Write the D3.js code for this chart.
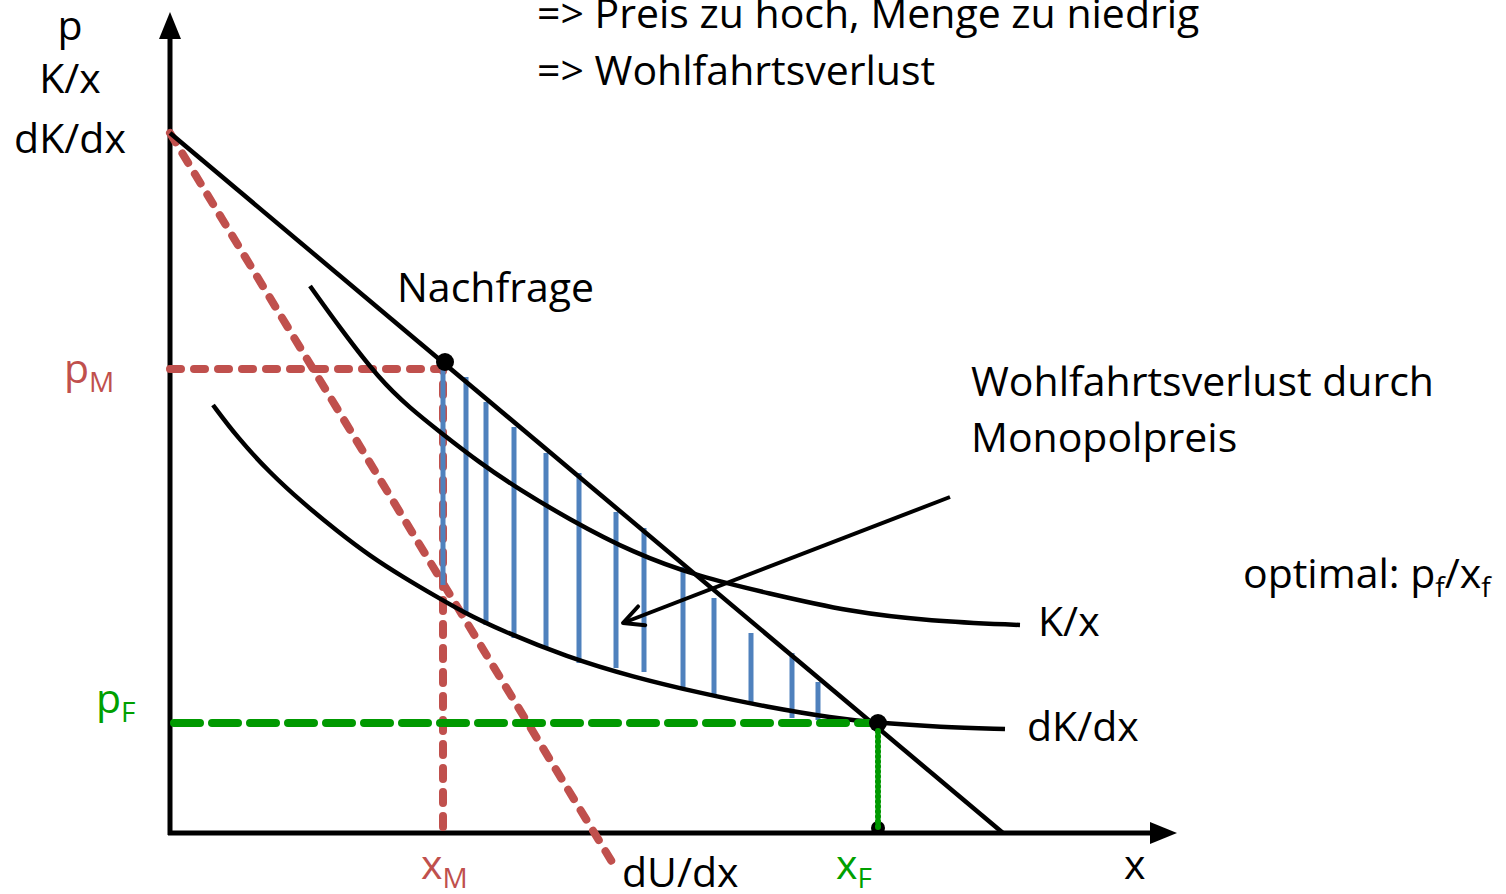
<!DOCTYPE html>
<html>
<head>
<meta charset="utf-8">
<script src="https://cdn.jsdelivr.net/npm/d3@7"></script>
<style>
  body { margin: 0; background: #fff; }
  svg { display: block; }
  text { font-family: "Open Sans", "Noto Sans", sans-serif; }
</style>
</head>
<body>
<svg id="chart" width="1506" height="894"></svg>
<script>
// values in axis units, origin at the corner of the two axes
var demand = [[0, 700], [833, 0]];
var marginalRevenue = [[0, 700], [442, -29]];
var avgCost = [[140, 547], [170, 505], [210, 453], [240, 425], [270, 401], [310, 370], [350, 343],
  [397, 315], [463, 280], [530, 256], [597, 240], [680, 221], [760, 212], [850, 208]];
var marginalCost = [[43, 428], [67, 396], [100, 360], [133, 330], [167, 302], [200, 277], [233, 256],
  [267, 236], [293, 221], [330, 203], [397, 176], [463, 156], [530, 140], [597, 126], [663, 115],
  [708, 110], [770, 106], [835, 104]];

// deadweight loss hatching
var hatchX = [273, 296, 316, 344, 376, 409, 446, 474, 513, 544, 581, 622, 648];
var hatchTop = [466, 456, 431, 406, 380, 360, 321, 305, 266, 235, 200, 180, 151];
var hatchBottom = [248, 221, 208, 195, 185, 170, 165, 161, 146, 136, 128, 115, 113];

var xM = 273, pM = 464;
var xF = 708, pF = 110;
var dots = [[275, 471, 9], [708, 110, 9], [708, 5, 7]];
var pointer = [[780, 336], [453, 210]];

var red = "#C0504D", green = "#009900", blue = "#4F81BD";

var svg = d3.select("#chart");
var x = d3.scaleLinear().domain([0, 1007]).range([170, 1177]);
var y = d3.scaleLinear().domain([0, 821]).range([833, 12]);

svg.append("defs").append("marker")
  .attr("id", "openHead").attr("markerUnits", "userSpaceOnUse")
  .attr("viewBox", "-24 -14 28 28").attr("refX", 0).attr("refY", 0)
  .attr("markerWidth", 28).attr("markerHeight", 28).attr("orient", "auto")
  .append("path").attr("d", "M-20,-10 L0,0 L-20,10")
  .attr("fill", "none").attr("stroke", "#000").attr("stroke-width", 4)
  .attr("stroke-linecap", "round").attr("stroke-linejoin", "round");

var straight = d3.line().x(function(d) { return x(d[0]); }).y(function(d) { return y(d[1]); });
var smooth = d3.line().x(function(d) { return x(d[0]); }).y(function(d) { return y(d[1]); })
  .curve(d3.curveBasis);

// axes with filled arrow heads
var x0 = x(0), y0 = y(0), yTop = y(821), xEnd = x(1007);
svg.append("line")
  .attr("x1", x0).attr("y1", y0 + 2).attr("x2", x0).attr("y2", yTop + 20)
  .attr("stroke", "#000").attr("stroke-width", 5);
svg.append("path")
  .attr("d", "M" + x0 + "," + yTop + " L" + (x0 + 11) + "," + (yTop + 27) +
    " L" + (x0 - 11) + "," + (yTop + 27) + " Z").attr("fill", "#000");
svg.append("line")
  .attr("x1", x0 - 2).attr("y1", y0).attr("x2", xEnd - 20).attr("y2", y0)
  .attr("stroke", "#000").attr("stroke-width", 5);
svg.append("path")
  .attr("d", "M" + xEnd + "," + y0 + " L" + (xEnd - 27) + "," + (y0 - 11) +
    " L" + (xEnd - 27) + "," + (y0 + 11) + " Z").attr("fill", "#000");

// monopoly guides
svg.append("path").datum([[0, pM], [xM, pM], [xM, 0]])
  .attr("d", straight).attr("fill", "none").attr("stroke", red).attr("stroke-width", 8)
  .attr("stroke-dasharray", "11 13").attr("stroke-linecap", "round");
svg.append("path").datum(marginalRevenue)
  .attr("d", straight).attr("fill", "none").attr("stroke", red).attr("stroke-width", 8)
  .attr("stroke-dasharray", "11 13").attr("stroke-linecap", "round");

// hatching
svg.append("g").selectAll("line").data(hatchX).join("line")
  .attr("x1", function(d) { return x(d); }).attr("x2", function(d) { return x(d); })
  .attr("y1", function(d, i) { return y(hatchTop[i]); })
  .attr("y2", function(d, i) { return y(hatchBottom[i]); })
  .attr("stroke", blue).attr("stroke-width", 5);

// curves
svg.append("path").datum(demand).attr("d", straight)
  .attr("fill", "none").attr("stroke", "#000").attr("stroke-width", 4.5);
svg.append("path").datum(avgCost).attr("d", smooth)
  .attr("fill", "none").attr("stroke", "#000").attr("stroke-width", 4.5);
svg.append("path").datum(marginalCost).attr("d", smooth)
  .attr("fill", "none").attr("stroke", "#000").attr("stroke-width", 4.5);

// competitive guides
svg.append("line")
  .attr("x1", x(0) + 4).attr("y1", y(pF)).attr("x2", x(xF)).attr("y2", y(pF))
  .attr("stroke", green).attr("stroke-width", 8)
  .attr("stroke-dasharray", "26 12").attr("stroke-linecap", "round");

// pointer arrow
svg.append("path").datum(pointer).attr("d", straight)
  .attr("fill", "none").attr("stroke", "#000").attr("stroke-width", 4)
  .attr("marker-end", "url(#openHead)");

svg.append("g").selectAll("circle").data(dots).join("circle")
  .attr("cx", function(d) { return x(d[0]); }).attr("cy", function(d) { return y(d[1]); })
  .attr("r", function(d) { return d[2]; }).attr("fill", "#000");

// dotted drop line drawn over the foot dot
svg.append("line")
  .attr("x1", x(xF)).attr("y1", y(pF) + 8).attr("x2", x(xF)).attr("y2", y(0) - 3)
  .attr("stroke", green).attr("stroke-width", 6)
  .attr("stroke-dasharray", "1 4").attr("stroke-linecap", "round");

// texts
function label(px, py, parts, color, anchor) {
  var t = svg.append("text").attr("x", px).attr("y", py)
    .attr("fill", color || "#000").attr("font-size", 41)
    .attr("text-anchor", anchor || "start");
  var shifted = 0;
  parts.forEach(function(p) {
    var s = t.append("tspan").text(p.t);
    if (p.sub) {
      s.attr("font-size", 28).attr("dy", 9 - shifted);
      shifted = 9;
    } else if (shifted) {
      s.attr("dy", -shifted);
      shifted = 0;
    }
  });
  return t;
}

label(70, 40, [{t: "p"}], "#000", "middle");
label(70, 93, [{t: "K/x"}], "#000", "middle");
label(70, 153, [{t: "dK/dx"}], "#000", "middle");
label(537, 28, [{t: "=> Preis zu hoch, Menge zu niedrig"}]);
label(537, 85, [{t: "=> Wohlfahrtsverlust"}]);
label(397, 302, [{t: "Nachfrage"}]);
label(971, 396, [{t: "Wohlfahrtsverlust durch"}]);
label(971, 452, [{t: "Monopolpreis"}]);
label(1243, 588, [{t: "optimal: p"}, {t: "f", sub: true}, {t: "/x"}, {t: "f", sub: true}]);
label(1038, 636, [{t: "K/x"}]);
label(1027, 741, [{t: "dK/dx"}]);
label(64, 383, [{t: "p"}, {t: "M", sub: true}], red);
label(96, 713, [{t: "p"}, {t: "F", sub: true}], "#00A000");
label(421, 879, [{t: "x"}, {t: "M", sub: true}], red);
label(622, 887, [{t: "dU/dx"}]);
label(836, 879, [{t: "x"}, {t: "F", sub: true}], "#00A000");
label(1124, 879, [{t: "x"}]);
</script>
</body>
</html>
